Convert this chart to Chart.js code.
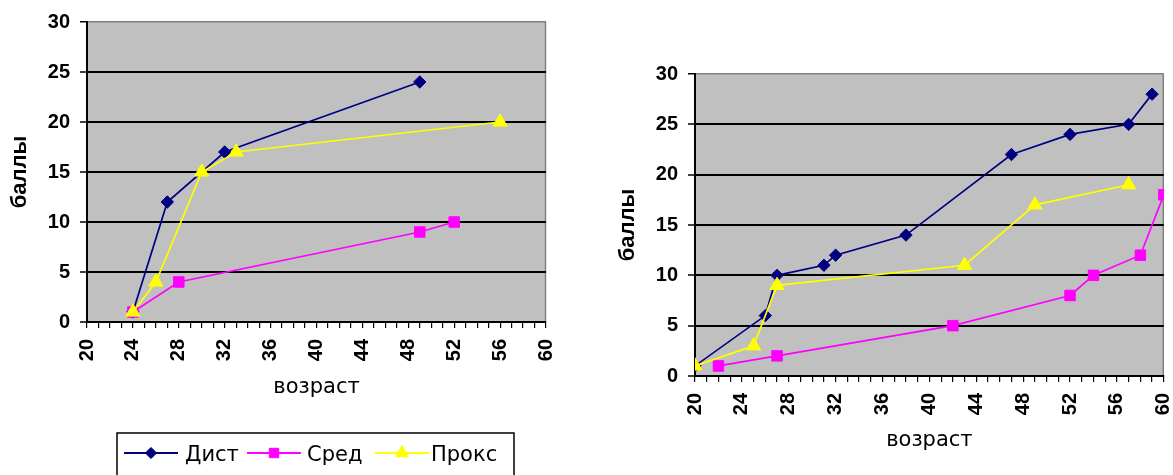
<!DOCTYPE html>
<html><head><meta charset="utf-8">
<script src="https://cdn.jsdelivr.net/npm/chart.js@4.4.1/dist/chart.umd.min.js"></script>
<style>
html,body{margin:0;padding:0;background:#fff;width:1173px;height:475px;overflow:hidden}
#c1{position:absolute;left:0;top:0}
#c2{position:absolute;left:590px;top:0}
</style></head><body>
<canvas id="c1" width="590" height="475"></canvas>
<canvas id="c2" width="583" height="475"></canvas>
<script>
// ---- data ----
const seriesNames = ['Дист', 'Сред', 'Прокс'];
const xTickLabels = ['20','24','28','32','36','40','44','48','52','56','60'];
const yTickValues = [0,5,10,15,20,25,30];
const xAxisTitle = 'возраст';
const yAxisTitle = 'баллы';

// left chart
const leftDistAge    = [24, 27, 32, 49];
const leftDistScore  = [1, 12, 17, 24];
const leftSredAge    = [24, 28, 49, 52];
const leftSredScore  = [1, 4, 9, 10];
const leftProksAge   = [24, 26, 30, 33, 56];
const leftProksScore = [1, 4, 15, 17, 20];

// right chart
const rightDistAge    = [20, 26, 27, 31, 32, 38, 47, 52, 57, 59];
const rightDistScore  = [1, 6, 10, 11, 12, 14, 22, 24, 25, 28];
const rightSredAge    = [22, 27, 42, 52, 54, 58, 60];
const rightSredScore  = [1, 2, 5, 8, 10, 12, 18];
const rightProksAge   = [20, 25, 27, 43, 49, 57];
const rightProksScore = [1, 3, 9, 11, 17, 19];

// ---- styling ----
const colors = ['#000080', '#FF00FF', '#FFFF00'];
const styles = ['rectRot', 'rect', 'triangle'];
const radii = [6.2, 7.4, 8.2];

function pts(xs, ys){ return xs.map((x,i)=>({x:x, y:ys[i]})); }
function ds(i, xs, ys){
  return {
    label: seriesNames[i], data: pts(xs, ys), showLine: true,
    borderColor: colors[i], backgroundColor: colors[i], borderWidth: 1.7,
    pointStyle: styles[i], pointRadius: radii[i], pointHoverRadius: radii[i],
    pointBackgroundColor: colors[i], pointBorderColor: colors[i], pointBorderWidth: 1,
    order: 3 - i, tension: 0
  };
}

const plotBg = {
  id: 'plotBg',
  beforeDraw(chart){
    const {ctx, chartArea:a} = chart;
    ctx.save();
    ctx.fillStyle = '#C0C0C0';
    ctx.fillRect(a.left, a.top, a.right - a.left, a.bottom - a.top);
    ctx.strokeStyle = '#808080'; ctx.lineWidth = 1.5;
    ctx.beginPath(); ctx.moveTo(a.right - 0.5, a.top); ctx.lineTo(a.right - 0.5, a.bottom); ctx.stroke();
    ctx.restore();
  }
};

const legendBox = {
  id: 'legendBox',
  afterDraw(chart, args, o){
    if (!o || !o.show) return;
    const ctx = chart.ctx;
    ctx.save();
    ctx.strokeStyle = '#000'; ctx.lineWidth = 1.5;
    ctx.strokeRect(o.box[0], o.box[1], o.box[2], o.box[3]);
    chart.data.datasets.forEach((d, i) => {
      const x0 = o.sampleX[i], y = o.sampleY;
      ctx.strokeStyle = d.borderColor; ctx.lineWidth = 1.8;
      ctx.beginPath(); ctx.moveTo(x0, y); ctx.lineTo(x0 + o.sampleLen, y); ctx.stroke();
      ctx.fillStyle = d.backgroundColor; ctx.strokeStyle = d.borderColor; ctx.lineWidth = 1;
      Chart.helpers.drawPoint(ctx, {pointStyle: d.pointStyle, radius: d.pointRadius * 0.9, rotation: 0, borderWidth: 1}, x0 + o.sampleLen/2, y);
      ctx.fillStyle = '#000';
      ctx.font = '21px "DejaVu Sans"';
      ctx.textBaseline = 'alphabetic';
      ctx.fillText(d.label, o.textX[i], o.textY);
    });
    ctx.restore();
  }
};

function makeChart(id, sets, opt){
  const tickFont = {family: 'Liberation Sans', weight: 'bold', size: 20};
  return new Chart(document.getElementById(id), {
    type: 'scatter',
    data: { datasets: sets },
    plugins: [plotBg, legendBox],
    options: {
      responsive: false, animation: false, devicePixelRatio: 1,
      layout: { padding: opt.padding },
      plugins: { legend: {display: false}, tooltip: {enabled: false}, legendBox: opt.legend || {show:false} },
      scales: {
        x: {
          type: 'linear', min: 20, max: 60,
          ticks: {
            stepSize: 1, autoSkip: false, minRotation: 90, maxRotation: 90, padding: 11,
            font: tickFont, color: '#000',
            callback: v => xTickLabels.includes(String(v)) ? String(v) : ''
          },
          grid: { drawOnChartArea: false, drawTicks: true, tickLength: 6, color: '#000', lineWidth: 1.2 },
          border: { color: '#000', width: 2 },
          title: { display: true, text: xAxisTitle, color: '#000', padding: 0,
                   font: {family: 'DejaVu Sans', size: 21} },
          afterFit: s => { s.height = opt.xH; s.paddingLeft = 0; s.paddingRight = 0; }
        },
        y: {
          type: 'linear', min: 0, max: 30,
          afterBuildTicks: s => { s.ticks = yTickValues.map(v => ({value: v})); },
          ticks: { padding: 10, font: tickFont, color: '#000' },
          grid: {
            color: c => (c.tick && c.tick.value === 30) ? '#808080' : '#000',
            lineWidth: c => (c.tick && c.tick.value === 30) ? 1.5 : 2,
            tickColor: '#000', tickWidth: 1.5, tickLength: 7, drawTicks: true
          },
          border: { color: '#000', width: 2 },
          title: { display: true, text: yAxisTitle, color: '#000', padding: {top: opt.yTitlePad, bottom: 0},
                   font: {family: 'Liberation Sans', weight: 'bold', size: 22} },
          afterFit: s => { s.width = opt.yW; s.paddingTop = 0; s.paddingBottom = 0; }
        }
      }
    }
  });
}

makeChart('c1', [
  ds(0, leftDistAge, leftDistScore),
  ds(1, leftSredAge, leftSredScore),
  ds(2, leftProksAge, leftProksScore)
], {
  padding: {left: 0, right: 44, top: 22, bottom: 75}, xH: 78, yW: 87, yTitlePad: 7,
  legend: { show: true, box: [117, 433, 397, 50], sampleX: [124, 247, 375], sampleLen: 54,
            sampleY: 453, textX: [185, 307, 431], textY: 461 }
});

makeChart('c2', [
  ds(0, rightDistAge, rightDistScore),
  ds(1, rightSredAge, rightSredScore),
  ds(2, rightProksAge, rightProksScore)
], {
  padding: {left: 0, right: 9, top: 74, bottom: 22}, xH: 77, yW: 105, yTitlePad: 25
});
</script>
</body></html>
